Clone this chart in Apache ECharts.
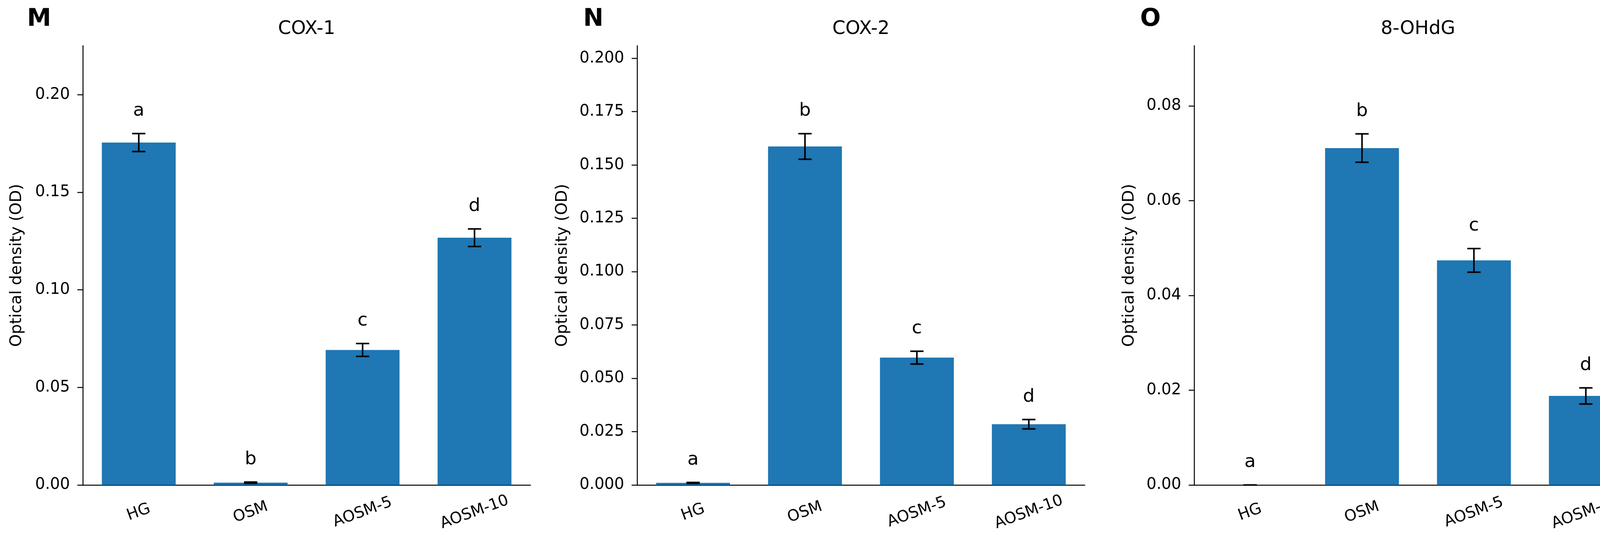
<!DOCTYPE html>
<html lang="en">
<head>
    <meta charset="UTF-8">
    <title>COX-1 / COX-2 / 8-OHdG</title>
    <script src="https://cdn.jsdelivr.net/npm/echarts@6.0.0/dist/echarts.min.js"></script>
    <style>
        html, body { margin: 0; padding: 0; background: #fff; }
    </style>
</head>
<body>
    <div id="main" style="width: 4255px;height:1392px;"></div>

    <script>
        // groups on the x axis
        var categories = ['HG', 'OSM', 'AOSM-5', 'AOSM-10'];

        // COX-1 (panel M)
        var cox1Mean = [0.1755, 0.0012, 0.0692, 0.1267];
        var cox1Err = [0.0046, 0.0003, 0.0033, 0.0045];
        var cox1Letters = ['a', 'b', 'c', 'd'];
        var cox1Ticks = [0, 0.05, 0.10, 0.15, 0.20];

        // COX-2 (panel N)
        var cox2Mean = [0.0010, 0.1587, 0.0597, 0.0285];
        var cox2Err = [0.0002, 0.0060, 0.0030, 0.0022];
        var cox2Letters = ['a', 'b', 'c', 'd'];
        var cox2Ticks = [0, 0.025, 0.050, 0.075, 0.100, 0.125, 0.150, 0.175, 0.200];

        // 8-OHdG (panel O)
        var ohdgMean = [0.0000, 0.0711, 0.0474, 0.0188];
        var ohdgErr = [0.0000, 0.0030, 0.0025, 0.0017];
        var ohdgLetters = ['a', 'b', 'c', 'd'];
        var ohdgTicks = [0, 0.02, 0.04, 0.06, 0.08];

        var panels = [
            { letter: 'M', title: 'COX-1', mean: cox1Mean, err: cox1Err, letters: cox1Letters, ticks: cox1Ticks, max: 0.2251, digits: 2, left: 212, nameGap: 148 },
            { letter: 'N', title: 'COX-2', mean: cox2Mean, err: cox2Err, letters: cox2Letters, ticks: cox2Ticks, max: 0.2059, digits: 3, left: 1631, nameGap: 170 },
            { letter: 'O', title: '8-OHdG', mean: ohdgMean, err: ohdgErr, letters: ohdgLetters, ticks: ohdgTicks, max: 0.0927, digits: 2, left: 3057, nameGap: 145 }
        ];

        var FONT = 'DejaVu Sans';
        var plotTop = 117, plotHeight = 1124, plotWidth = 1146;

        // error bar + significance letter for each bar
        function errorBars(letters) {
            return function (params, api) {
                var i = api.value(0);
                var m = api.value(1);
                var e = api.value(2);
                var hi = api.coord([i, m + e]);
                var lo = api.coord([i, m - e]);
                var x = hi[0];
                var cap = 17;
                var line = { stroke: '#000', lineWidth: 4 };
                return {
                    type: 'group',
                    children: [
                        { type: 'line', shape: { x1: x, y1: hi[1], x2: x, y2: lo[1] }, style: line },
                        { type: 'line', shape: { x1: x - cap, y1: hi[1], x2: x + cap, y2: hi[1] }, style: line },
                        { type: 'line', shape: { x1: x - cap, y1: lo[1], x2: x + cap, y2: lo[1] }, style: line },
                        {
                            type: 'text', x: x, y: hi[1] - 58,
                            style: { text: letters[i], fill: '#000', fontSize: 47, fontFamily: FONT, align: 'center', verticalAlign: 'middle' }
                        }
                    ]
                };
            };
        }

        var grids = [], xAxes = [], yAxes = [], series = [], graphics = [];

        panels.forEach(function (p, k) {
            grids.push({ left: p.left, top: plotTop, width: plotWidth, height: plotHeight });

            xAxes.push({
                type: 'category',
                gridIndex: k,
                data: categories,
                axisLine: { lineStyle: { color: '#000', width: 2.5 } },
                axisTick: { alignWithLabel: true, length: 14, lineStyle: { color: '#000', width: 2.5 } },
                axisLabel: {
                    rotate: 20, fontSize: 40, fontFamily: FONT, color: '#000',
                    align: 'center', verticalAlign: 'middle', margin: 70
                }
            });

            yAxes.push({
                type: 'value',
                gridIndex: k,
                min: 0,
                max: p.max,
                splitLine: { show: false },
                axisLine: { show: true, lineStyle: { color: '#000', width: 2.5 } },
                axisTick: { show: true, length: 14, customValues: p.ticks, lineStyle: { color: '#000', width: 2.5 } },
                axisLabel: {
                    customValues: p.ticks, fontSize: 40, fontFamily: FONT, color: '#000', margin: 33,
                    formatter: function (v) { return v.toFixed(p.digits); }
                },
                name: 'Optical density (OD)',
                nameLocation: 'middle',
                nameGap: p.nameGap,
                nameTextStyle: { fontSize: 41, fontFamily: FONT, color: '#000' }
            });

            series.push({
                type: 'bar',
                xAxisIndex: k,
                yAxisIndex: k,
                barWidth: '66%',
                itemStyle: { color: '#1f77b4' },
                data: p.mean
            });

            series.push({
                type: 'custom',
                xAxisIndex: k,
                yAxisIndex: k,
                renderItem: errorBars(p.letters),
                data: p.mean.map(function (m, i) { return [i, m, p.err[i]]; }),
                z: 5
            });

            graphics.push({
                type: 'text', x: p.left + plotWidth / 2, y: 75,
                style: { text: p.title, fill: '#000', fontSize: 48, fontFamily: FONT, align: 'center', verticalAlign: 'middle' }
            });
            graphics.push({
                type: 'text', x: p.left - 112, y: 50,
                style: { text: p.letter, fill: '#000', fontSize: 62, fontWeight: 'bold', fontFamily: FONT, align: 'center', verticalAlign: 'middle' }
            });
        });

        var myChart = echarts.init(document.getElementById('main'));
        myChart.setOption({
            animation: false,
            backgroundColor: '#fff',
            grid: grids,
            xAxis: xAxes,
            yAxis: yAxes,
            series: series,
            graphic: graphics
        });
    </script>
</body>
</html>
